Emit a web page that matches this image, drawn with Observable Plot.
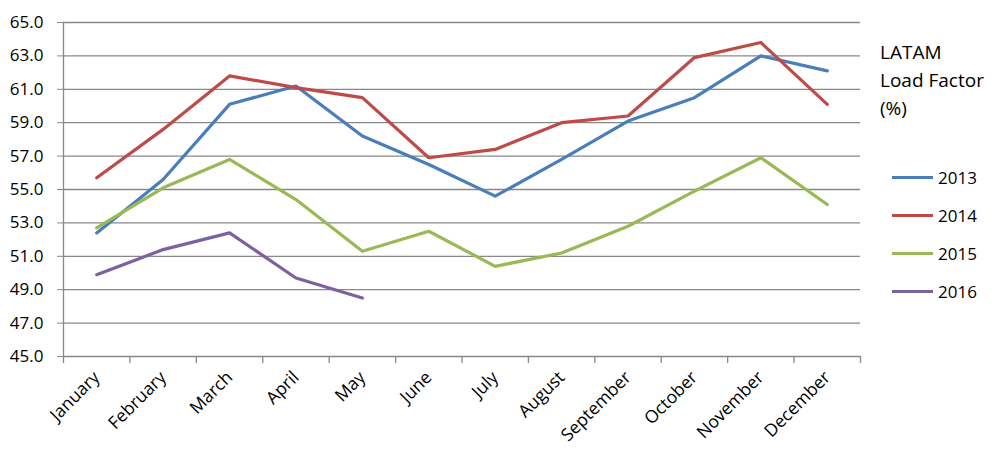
<!DOCTYPE html>
<html><head><meta charset="utf-8">
<script src="https://cdn.jsdelivr.net/npm/d3@7"></script>
<script src="https://cdn.jsdelivr.net/npm/@observablehq/plot@0.6"></script>
<style>
body{margin:0;background:#fff;font-family:"Open Sans",sans-serif}
#wrap{position:relative;width:1000px;height:462px;overflow:hidden}
#legend{position:absolute;left:880px;top:38px;color:#000;font-family:"Open Sans",sans-serif}
#legend .title{font-size:19px;line-height:28px}
#legend .items{margin-top:36px;margin-left:12px}
#legend .item{display:flex;align-items:center;height:38px;font-size:17px}
#legend .sw{width:41px;height:3px;margin-right:5px}
#wrap svg [aria-label^="y-axis"] line,#wrap svg [aria-label="y-axis tick"] path{stroke:#888}
</style></head><body><div id="wrap"><div id="legend"></div></div>
<script>
const months = ["January","February","March","April","May","June","July","August","September","October","November","December"];
const years = ["2013","2014","2015","2016"];
const v2013 = [52.4,55.6,60.1,61.2,58.2,56.5,54.6,56.8,59.1,60.5,63.0,62.1];
const v2014 = [55.7,58.6,61.8,61.1,60.5,56.9,57.4,59.0,59.4,62.9,63.8,60.1];
const v2015 = [52.7,55.1,56.8,54.4,51.3,52.5,50.4,51.2,52.8,54.9,56.9,54.1];
const v2016 = [49.9,51.4,52.4,49.7,48.5];
const series = [v2013, v2014, v2015, v2016];
const colors = ["#4a7ebb","#be4b48","#98b954","#7d60a0"];
const yTicks = [45,47,49,51,53,55,57,59,61,63,65];
const legendTitle = ["LATAM","Load Factor","(%)"];

const rows = [];
years.forEach((yr,k)=>series[k].forEach((v,i)=>rows.push({year:yr,i,value:v})));
const idx = months.map((m,i)=>i);
const bounds = months.map((m,i)=>i-0.5).concat([months.length-0.5]);
const grid = "#888";

const chart = Plot.plot({
  width:1000, height:462,
  marginLeft:63, marginRight:140, marginTop:22, marginBottom:106,
  style:{fontFamily:"Open Sans", fontSize:"17.5px", color:"#000", background:"#fff", overflow:"visible"},
  x:{type:"linear", domain:[-0.5, months.length-0.5], ticks:idx, tickFormat:i=>months[i], tickRotate:-45, tickSize:0, tickPadding:18, label:null},
  y:{domain:[45,65], ticks:yTicks, tickFormat:d=>d.toFixed(1), tickSize:6, tickPadding:14, label:null},
  color:{domain:years, range:colors},
  marks:[
    Plot.ruleY(yTicks,{stroke:grid, strokeWidth:1.3}),
    Plot.ruleX([bounds[0]],{stroke:grid, strokeWidth:1.3}),
    Plot.ruleX(bounds,{y1:45, y2:45, insetBottom:-7, stroke:grid, strokeWidth:1.3}),
    Plot.line(rows,{x:"i", y:"value", z:"year", stroke:"year", strokeWidth:3.2, strokeLinejoin:"round"})
  ]
});
chart.querySelectorAll('[aria-label="y-axis tick label"] text, [aria-label="y-axis"] text').forEach(t=>t.style.fontSize="17px");
document.getElementById("wrap").prepend(chart);

const lg = document.getElementById("legend");
lg.innerHTML = '<div class="title">'+legendTitle.join("<br>")+'</div><div class="items">'+
  years.map((y,k)=>'<div class="item"><span class="sw" style="background:'+colors[k]+'"></span>'+y+'</div>').join("")+'</div>';
</script></body></html>
